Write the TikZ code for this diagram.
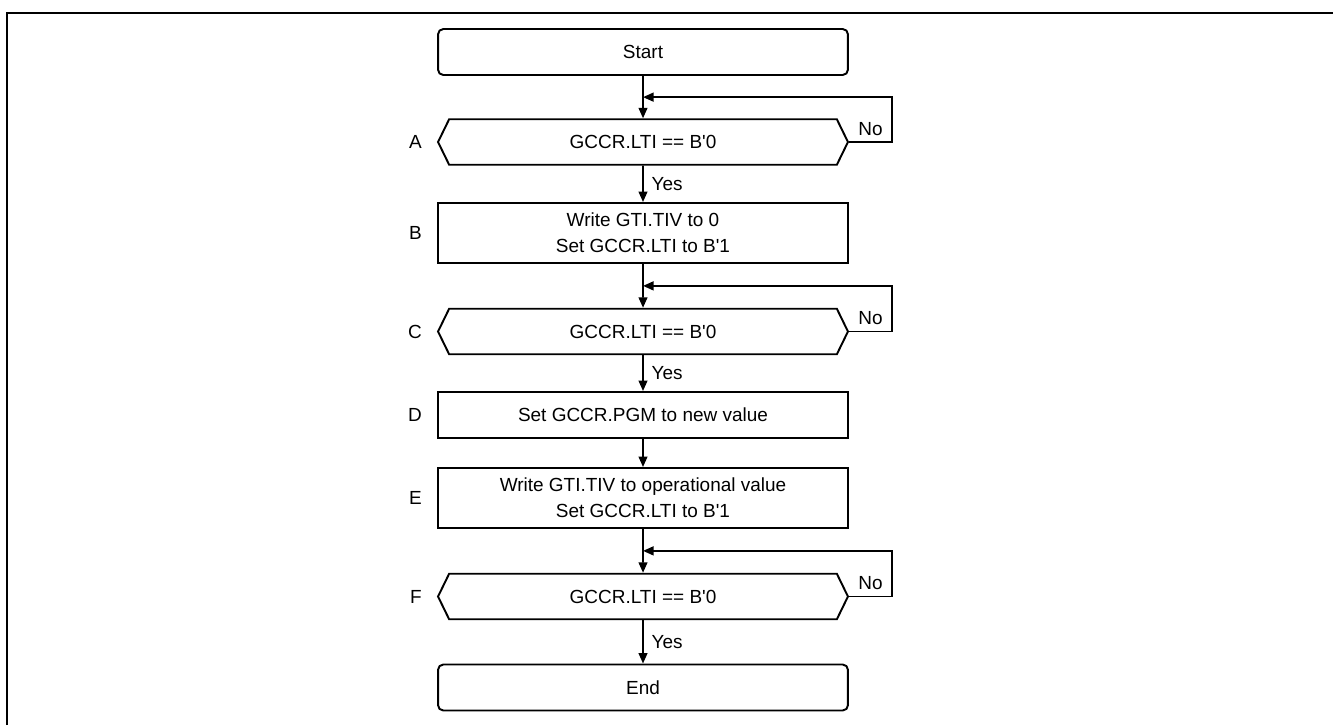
\documentclass[tikz,border=0pt]{standalone}
\usepackage{fontspec}
\setmainfont{Liberation Sans}
\usetikzlibrary{shapes.symbols, arrows.meta, positioning, calc}

\begin{document}
\begin{tikzpicture}[
    x=0.02cm, y=-0.02cm,
    txt/.style={font=\fontsize{10.8}{14.8}\selectfont},
    box/.style={txt, draw, line width=1.1pt, minimum width=8.2cm, minimum height=1.2cm,
                align=center, inner sep=0pt},
    term/.style={box, rounded corners=3pt, minimum height=0.92cm},
    check/.style={txt, draw, line width=1.1pt, signal, signal to=east and west,
                  signal pointer angle=128, minimum width=8.2cm, minimum height=0.91cm, inner sep=0pt},
    tag/.style={txt},
    arrow/.style={-{Triangle[length=6pt, width=5pt]}, line width=1.1pt}
  ]
    \useasboundingbox (0,0) rectangle (1333,725);
    \draw[line width=1.1pt] (7,725) -- (7,13) -- (1333,13);

    \node[term] (start) at (643,52) {Start};
    \node[check] (a) at (643,142) {GCCR.LTI == B\textquotesingle 0};
    \node[box] (b) at (643,233) {Write GTI.TIV to 0\\Set GCCR.LTI to B\textquotesingle 1};
    \node[check] (c) at (643,331.5) {GCCR.LTI == B\textquotesingle 0};
    \node[box, minimum height=0.92cm] (d) at (643,415) {Set GCCR.PGM to new value};
    \node[box] (e) at (643,498) {Write GTI.TIV to operational value\\Set GCCR.LTI to B\textquotesingle 1};
    \node[check] (f) at (643,596.5) {GCCR.LTI == B\textquotesingle 0};
    \node[term] (end) at (643,687.5) {End};

    % step letters
    \node[tag, left=0.18cm of a] (la) {A};
    \node[tag, left=0.18cm of b] (lb) {B};
    \node[tag, left=0.18cm of c] (lc) {C};
    \node[tag, left=0.18cm of d] (ld) {D};
    \node[tag, left=0.18cm of e] (le) {E};
    \node[tag, left=0.18cm of f] (lf) {F};

    \draw[arrow] (start) -- (a);
    \draw[arrow] (a) -- node[tag, right, xshift=1pt] {Yes} (b);
    \draw[arrow] (b) -- (c);
    \draw[arrow] (c) -- node[tag, right, xshift=1pt] {Yes} (d);
    \draw[arrow] (d) -- (e);
    \draw[arrow] (e) -- (f);
    \draw[arrow] (f) -- node[tag, right, xshift=1pt] {Yes} (end);

    % wait loops
    \draw[arrow] (a.east) -- ++(43,0) node[tag, midway, above] {No} |- ($(start.south)!.5!(a.north)$);
    \draw[arrow] (c.east) -- ++(43,0) node[tag, midway, above] {No} |- ($(b.south)!.5!(c.north)$);
    \draw[arrow] (f.east) -- ++(43,0) node[tag, midway, above] {No} |- ($(e.south)!.5!(f.north)$);
  \end{tikzpicture}
\end{document}
